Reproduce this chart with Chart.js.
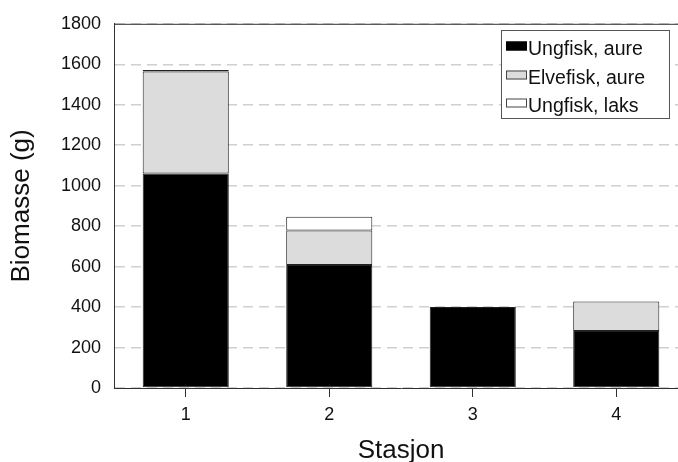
<!DOCTYPE html>
<html>
<head>
<meta charset="utf-8">
<script src="https://cdn.jsdelivr.net/npm/chart.js@4/dist/chart.umd.min.js"></script>
<style>
  html, body { margin: 0; padding: 0; background: #fff; overflow: hidden; }
  #wrap { width: 700px; height: 462px; }
</style>
</head>
<body>
<div id="wrap"><canvas id="biomasse" width="700" height="462"></canvas></div>
<script>
// stasjoner og biomasse (g) per gruppe
const stasjoner = ['1', '2', '3', '4'];
const ungfiskAure = [1060, 608, 400, 282];
const elvefiskAure = [504, 170, 0, 146];
const ungfiskLaks = [8, 68, 0, 0];
const yTicks = [0, 200, 400, 600, 800, 1000, 1200, 1400, 1600, 1800];

const fontFamily = '"Liberation Sans", Arial, sans-serif';

// top frame line + boxed legend, drawn on the canvas
const frameAndLegend = {
  id: 'frameAndLegend',
  afterDraw(chart) {
    const ctx = chart.ctx;
    const area = chart.chartArea;
    ctx.save();
    ctx.strokeStyle = '#333';
    ctx.lineWidth = 1;
    ctx.beginPath();
    ctx.moveTo(area.left, area.top + 0.5);
    ctx.lineTo(chart.width, area.top + 0.5);
    ctx.stroke();

    // legend box
    const bx = 501.5, by = 30.5, bw = 168, bh = 88;
    ctx.fillStyle = '#fff';
    ctx.fillRect(bx, by, bw, bh);
    ctx.strokeStyle = '#555';
    ctx.strokeRect(bx, by, bw, bh);

    const rows = [49, 78, 106];
    ctx.font = '19.5px ' + fontFamily;
    ctx.textBaseline = 'middle';
    ctx.textAlign = 'left';
    chart.data.datasets.forEach((ds, i) => {
      const cy = rows[i];
      ctx.fillStyle = ds.backgroundColor;
      ctx.fillRect(506, cy - 7.5, 21, 9);
      ctx.strokeStyle = i === 0 ? '#000' : '#444';
      ctx.strokeRect(506.5, cy - 7, 20, 8);
      ctx.fillStyle = '#111';
      ctx.fillText(ds.label, 528, cy + 1);
    });
    ctx.restore();
  }
};

const chartData = {
  labels: stasjoner,
  datasets: [
    { label: 'Ungfisk, aure', data: ungfiskAure, backgroundColor: '#000000' },
    { label: 'Elvefisk, aure', data: elvefiskAure, backgroundColor: '#dcdcdc' },
    { label: 'Ungfisk, laks', data: ungfiskLaks, backgroundColor: '#ffffff' }
  ].map(ds => Object.assign(ds, {
    borderColor: '#222',
    borderWidth: 1,
    borderSkipped: false,
    barPercentage: 0.6,
    categoryPercentage: 1
  }))
};

const config = {
  type: 'bar',
  data: chartData,
  options: {
    responsive: false,
    animation: false,
    devicePixelRatio: 1,
    layout: { padding: { top: 18, right: 12, left: 0, bottom: 0 } },
    plugins: {
      legend: { display: false },
      tooltip: { enabled: false }
    },
    scales: {
      x: {
        stacked: true,
        afterFit(scale) { scale.height = 74; },
        grid: { offset: false, drawOnChartArea: false, drawTicks: true, tickLength: 9, color: '#333' },
        border: { color: '#333', width: 1 },
        ticks: { font: { family: fontFamily, size: 18 }, color: '#111', padding: 7 },
        title: {
          display: true,
          text: 'Stasjon',
          font: { family: fontFamily, size: 26, lineHeight: 1 },
          color: '#111',
          padding: { top: 0, bottom: -2 }
        }
      },
      y: {
        stacked: true,
        min: 0,
        max: 1800,
        afterFit(scale) { scale.width = 114; },
        afterBuildTicks(scale) { scale.ticks = yTicks.map(v => ({ value: v })); },
        grid: { color: '#d0d0d0', lineWidth: 1.5, drawTicks: false },
        border: { color: '#333', width: 1, dash: [10, 6] },
        ticks: {
          font: { family: fontFamily, size: 18 },
          color: '#111',
          padding: 13,
          callback: v => String(v)
        },
        title: {
          display: true,
          text: 'Biomasse (g)',
          font: { family: fontFamily, size: 26, lineHeight: 1.2 },
          color: '#111',
          padding: { top: 6, bottom: 0 }
        }
      }
    }
  },
  plugins: [frameAndLegend]
};

new Chart(document.getElementById('biomasse'), config);
</script>
</body>
</html>
